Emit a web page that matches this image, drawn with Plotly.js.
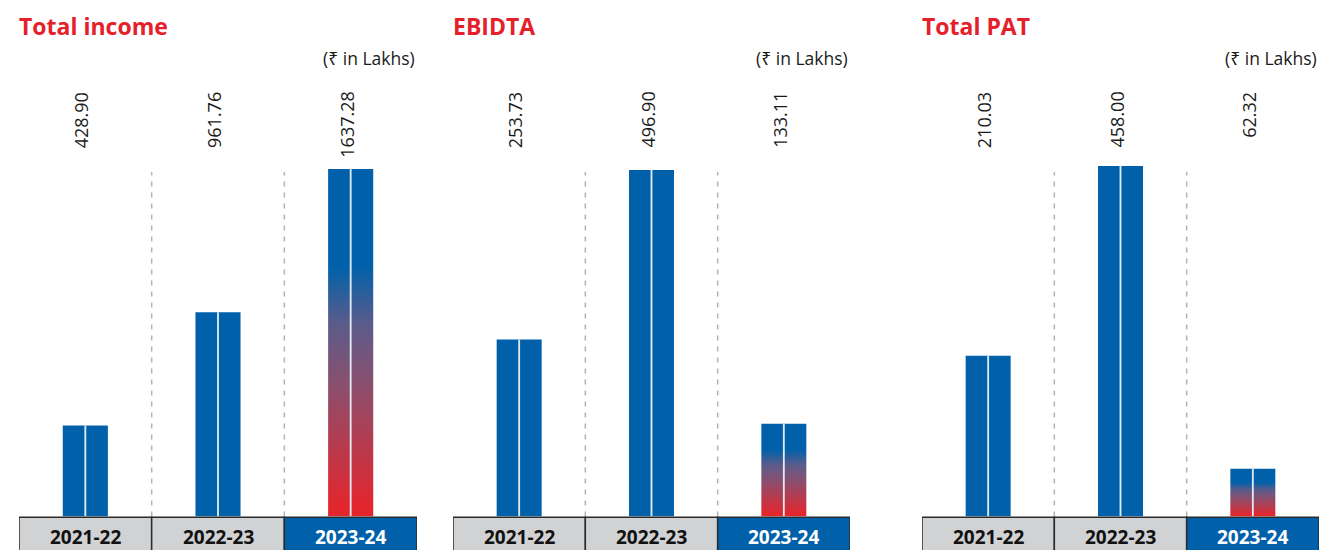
<!DOCTYPE html>
<html>
<head>
<meta charset="utf-8">
<script src="https://cdn.plot.ly/plotly-3.0.1.min.js"></script>
<style>html,body{margin:0;padding:0;background:#fff;}#chart{width:1323px;height:550px;}</style>
</head>
<body>
<div id="chart"></div>
<script>
// ---- data ----
const years = ["2021-22", "2022-23", "2023-24"];
const panelTitles = ["Total income", "EBIDTA", "Total PAT"];
const unitLabel = "(₹ in Lakhs)";
const totalIncome = [428.90, 961.76, 1637.28];
const ebidta = [253.73, 496.90, 133.11];
const totalPAT = [210.03, 458.00, 62.32];
const valueLabels = [
  ["428.90", "961.76", "1637.28"],
  ["253.73", "496.90", "133.11"],
  ["210.03", "458.00", "62.32"]
];

const series = [totalIncome, ebidta, totalPAT];
const BLUE = "#0061AA";
const RED = "#E3262E";
const FONT = "Open Sans, Noto Sans, DejaVu Sans, sans-serif";

const W = 1323, H = 550;
const xDomainsPx = [[19, 417], [453, 850], [922, 1319]];
const plotTopPx = 90, plotBottomPx = 516.5;
const barTopPx = [169, 170, 166];

const data = [];
const layout = {
  width: W, height: H,
  margin: {l: 0, r: 0, t: 0, b: 0},
  paper_bgcolor: "#fff", plot_bgcolor: "rgba(0,0,0,0)",
  showlegend: false, barmode: "overlay", hovermode: false,
  font: {family: FONT, color: "#1a1a1a"},
  shapes: [], annotations: []
};

const yDomain = [(H - plotBottomPx) / H, (H - plotTopPx) / H];
const plotH = plotBottomPx - plotTopPx;

series.forEach((vals, i) => {
  const xa = i === 0 ? "x" : "x" + (i + 1);
  const ya = i === 0 ? "y" : "y" + (i + 1);
  const xKey = i === 0 ? "xaxis" : "xaxis" + (i + 1);
  const yKey = i === 0 ? "yaxis" : "yaxis" + (i + 1);
  const maxV = Math.max(...vals);
  const yMax = maxV * plotH / (plotBottomPx - barTopPx[i]);

  data.push({
    type: "bar", x: years, y: vals, xaxis: xa, yaxis: ya,
    width: 0.34, marker: {color: BLUE, line: {width: 0}},
    meta: "main" + i, hoverinfo: "skip"
  });
  data.push({
    type: "bar", x: years, y: vals, xaxis: xa, yaxis: ya,
    width: 0.014, marker: {color: "rgba(228,237,246,0.97)", line: {width: 0}},
    hoverinfo: "skip"
  });

  layout[xKey] = {
    domain: [xDomainsPx[i][0] / W, xDomainsPx[i][1] / W],
    type: "category", range: [-0.5, 2.5], anchor: ya,
    showgrid: false, zeroline: false, showline: false, showticklabels: false, ticks: "", fixedrange: true
  };
  layout[yKey] = {
    domain: yDomain, range: [0, yMax], anchor: xa,
    showgrid: false, zeroline: false, showline: false, showticklabels: false, ticks: "", fixedrange: true
  };

  const xd = xa + " domain", yd = ya + " domain";
  // dashed separators
  [0.5, 1.5].forEach(sx => {
    layout.shapes.push({
      type: "line", xref: xa, yref: yd, x0: sx, x1: sx, y0: 0, y1: (plotBottomPx - 172) / plotH,
      line: {color: "#B3B3B3", width: 1.5, dash: "5px,6px"}, layer: "below"
    });
  });
  // category band
  years.forEach((yr, k) => {
    layout.shapes.push({
      type: "rect", xref: xa, yref: yd, x0: k - 0.5, x1: k + 0.5,
      y0: -0.2, y1: -0.002,
      fillcolor: k === 2 ? BLUE : "#D1D2D4",
      line: {color: "#2b2b2b", width: 1.5}, layer: "above"
    });
    layout.annotations.push({
      xref: xa, yref: yd, x: yr, y: (plotBottomPx - 537) / plotH,
      text: "<b>" + yr + "</b>", showarrow: false, xanchor: "center", yanchor: "middle",
      font: {family: FONT, size: 19, color: k === 2 ? "#ffffff" : "#111111"}
    });
    // value labels
    layout.annotations.push({
      xref: xa, yref: yd, x: yr, y: 1, xanchor: "center", yanchor: "top",
      text: valueLabels[i][k], textangle: -90, showarrow: false, xshift: -4,
      font: {family: FONT, size: 18, color: "#1a1a1a"}
    });
  });
  // title
  layout.annotations.push({
    xref: xd, yref: "paper", x: 0, y: (H - 26) / H, xanchor: "left", yanchor: "middle",
    text: "<b>" + panelTitles[i] + "</b>", showarrow: false, xshift: -2,
    font: {family: FONT, size: 23, color: "#E5202A"}
  });
  // unit
  layout.annotations.push({
    xref: xd, yref: "paper", x: 1, y: (H - 58) / H, xanchor: "right", yanchor: "middle",
    text: unitLabel, showarrow: false,
    font: {family: FONT, size: 17.5, color: "#1a1a1a"}
  });
});

const gd = document.getElementById("chart");
Plotly.newPlot(gd, data, layout, {staticPlot: true, displayModeBar: false}).then(() => {
  const svg = gd.querySelector("svg.main-svg");
  const NS = "http://www.w3.org/2000/svg";
  let defs = svg.querySelector("defs");
  if (!defs) { defs = document.createElementNS(NS, "defs"); svg.insertBefore(defs, svg.firstChild); }
  const grad = document.createElementNS(NS, "linearGradient");
  grad.setAttribute("id", "barGrad");
  grad.setAttribute("x1", "0"); grad.setAttribute("y1", "1");
  grad.setAttribute("x2", "0"); grad.setAttribute("y2", "0");
  [[0, RED], [0.03, RED], [0.38, "#8A4F6E"], [0.55, "#5D5B8A"], [0.72, BLUE], [1, BLUE]].forEach(([o, c]) => {
    const st = document.createElementNS(NS, "stop");
    st.setAttribute("offset", o); st.setAttribute("stop-color", c);
    grad.appendChild(st);
  });
  defs.appendChild(grad);
  gd.querySelectorAll("g.trace.bars").forEach(g => {
    const d = g.__data__;
    const tr = d && d[0] && d[0].trace;
    if (tr && typeof tr.meta === "string" && tr.meta.indexOf("main") === 0) {
      const paths = g.querySelectorAll(".point path");
      const p = paths[years.length - 1];
      if (p) p.style.fill = "url(#barGrad)";
    }
  });
});
</script>
</body>
</html>
